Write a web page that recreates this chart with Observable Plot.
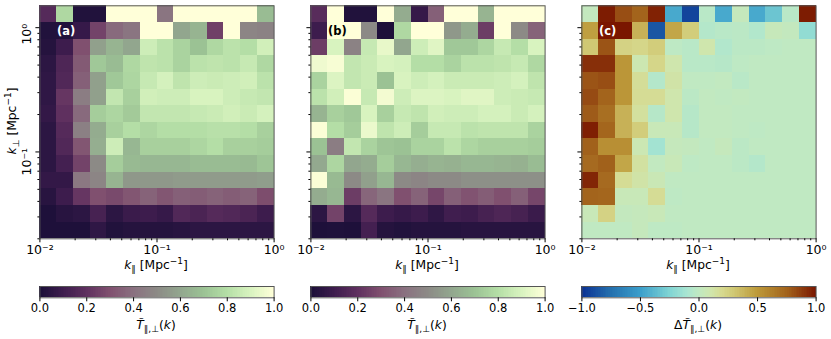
<!DOCTYPE html>
<html><head><meta charset="utf-8">
<script src="https://cdn.jsdelivr.net/npm/d3@7"></script>
<script src="https://cdn.jsdelivr.net/npm/@observablehq/plot@0.6"></script>
<style>
html,body{margin:0;padding:0;background:#fff}
#root{position:relative;width:831px;height:339px;overflow:hidden;font-family:"DejaVu Sans",sans-serif;color:#000}
#root svg{position:absolute;overflow:visible}
.lab{position:absolute;font-size:12.3px;line-height:14px;white-space:nowrap;transform:translate(-50%,-50%)}
.lab.rot{transform:translate(-50%,-50%) rotate(-90deg)}
.lab sub{font-size:9px;line-height:0;vertical-align:-3px}
.lab sup{font-size:9px;line-height:0;vertical-align:5px}
</style></head><body><div id="root"></div>
<script>
const panelA = [
[.17,.78,.02,.02,1,1,1,.42,1,1,1,1,1,.68],
[.02,.02,.08,.26,.38,.42,1,1,.6,.65,.25,1,.48,.47],
[.03,.1,.3,.58,.65,.6,.87,.82,.76,.7,.78,.82,.8,.88],
[.05,.15,.33,.72,.68,.78,.83,.82,.76,.82,.83,.82,.85,.78],
[.06,.16,.35,.58,.72,.77,.85,.89,.83,.87,.86,.87,.88,.82],
[.06,.22,.45,.58,.84,.75,.88,.87,.87,.9,.9,.87,.85,.84],
[.07,.2,.38,.74,.77,.73,.84,.84,.84,.85,.86,.88,.86,.89],
[.05,.17,.46,.62,.75,.8,.77,.8,.8,.8,.81,.81,.8,.75],
[.05,.16,.32,.63,.87,.66,.75,.75,.75,.77,.8,.75,.75,.74],
[.05,.12,.26,.5,.74,.67,.66,.66,.66,.68,.68,.68,.67,.71],
[.07,.07,.43,.48,.65,.55,.55,.55,.56,.56,.56,.56,.56,.57],
[.04,.1,.22,.3,.28,.32,.36,.32,.35,.34,.36,.34,.36,.29],
[.01,.04,.05,.13,.05,.09,.1,.08,.16,.14,.17,.16,.14,.1],
[.01,.01,.01,.06,.02,.03,.03,.03,.04,.05,.05,.05,.05,.05]];
const panelB = [
[.18,1,.02,.02,1,.62,.08,.35,1,1,.65,1,1,1],
[.1,1,1,.5,.01,.78,1,1,.55,.62,.24,1,.5,.36],
[.24,.9,.47,.85,.94,.6,.87,.92,.72,.72,.77,.85,.8,.9],
[.96,.98,.84,.86,.9,.89,.8,.8,.76,.82,.82,.83,.85,.78],
[.76,.91,.84,.86,.7,.9,.87,.89,.86,.86,.86,.87,.89,.83],
[.82,.88,.99,.85,.97,.87,.91,.91,.9,.92,.92,.87,.86,.85],
[.65,.75,.72,.9,.75,.85,.83,.88,.87,.87,.89,.89,.86,.89],
[.99,.8,.74,.95,.83,.87,.74,.85,.85,.82,.83,.83,.83,.76],
[.7,.45,.84,.76,.71,.7,.76,.76,.82,.77,.75,.75,.75,.74],
[.61,.77,.6,.62,.74,.66,.63,.65,.64,.66,.66,.65,.64,.68],
[.99,.67,.5,.58,.66,.5,.48,.5,.5,.52,.52,.52,.52,.52],
[.62,.66,.24,.37,.42,.3,.36,.27,.35,.31,.34,.3,.35,.27],
[.05,.26,.05,.17,.1,.08,.1,.06,.11,.1,.13,.15,.13,.09],
[.01,.015,.01,.12,.03,.02,.03,.03,.03,.04,.04,.04,.04,.04]];
const panelC = [
[.02,.98,.82,.75,.96,-.45,-.92,-.03,-.45,.03,-.45,-.32,-.03,.98],
[.48,1,1,.4,-.85,.45,.27,-.05,-.03,-.02,-.06,.04,.02,-.18],
[.3,.8,.24,.22,.27,-.01,-.03,.1,-.06,-.02,-.02,-.01,0,0],
[.92,.92,.52,.08,.22,.1,-.03,-.03,-.04,-.01,0,0,0,0],
[.8,.82,.52,.17,-.05,.12,0,0,.01,-.03,0,0,0,0],
[.83,.75,.52,.18,.18,.1,-.02,.01,0,.01,0,0,0,0],
[.78,.7,.4,.15,-.04,.1,-.04,.01,.01,0,0,0,0,0],
[.97,.74,.4,.27,.05,.05,-.04,.01,.01,0,-.01,0,0,0],
[.76,.55,.55,.07,-.12,.03,.02,0,.03,-.02,0,0,0,0],
[.72,.76,.45,.14,.01,.05,-.01,0,0,-.02,-.05,0,0,0],
[.95,.72,.18,.12,.06,0,0,0,0,0,0,0,0,0],
[.75,.74,.05,.05,.18,-.01,0,0,0,0,0,0,0,0],
[.05,.24,.02,.03,.05,0,0,0,0,0,0,0,0,0],
[0,0,0,.03,-.01,-.01,0,0,0,0,0,0,0,0]];

const seqDomain = [0,.1,.2,.3,.4,.5,.6,.7,.8,.9,1];
const seqColors = ["#1a0f38","#3d1c4d","#5f305f","#80506f","#8a7080","#8c8a86","#92a68e","#9bc294","#b4dea6","#d8f3bf","#ffffd9"];
const divDomain = [-1,-.75,-.5,-.25,-.1,0,.1,.2,.3,.5,.75,1];
const divColors = ["#0a2f93","#2470ae","#3a9ecb","#7fd4d4","#a8e5d2","#c0e9c2","#cfe6ad","#d6d98f","#d0c873","#bd9a3a","#a3641c","#7a1600"];
const seqTicks = [0,.2,.4,.6,.8,1];
const divTicks = [-1,-.5,0,.5,1];
const xDomain = [0.01,1], yDomain = [0.02,1.5];
const xMajor = [0.01,0.1,1], yMajor = [0.1,1];
const xLabels = {0.01:"10⁻²",0.1:"10⁻¹",1:"10⁰"};
const minor = [.02,.03,.04,.05,.06,.07,.08,.09,.2,.3,.4,.5,.6,.7,.8,.9];

const root = document.getElementById("root");
const logEdges = (d,n)=>d3.range(n+1).map(i=>d[0]*Math.pow(d[1]/d[0],i/n));
const xE = logEdges(xDomain,14), yE = logEdges(yDomain,14);
const font = {fontFamily:'"DejaVu Sans",sans-serif',fontSize:"11px",background:"transparent",color:"#000",overflow:"visible"};

function place(el,l,t){el.style.left=l+"px";el.style.top=t+"px";root.appendChild(el);}
function label(html,x,y,rot){const d=document.createElement("div");d.className="lab"+(rot?" rot":"");d.innerHTML=html;d.style.left=x+"px";d.style.top=y+"px";root.appendChild(d);}

function heat(left,values,colorCfg,tag,tagColor,tagDx,showY){
  const cells = values.flatMap((row,r)=>row.map((v,c)=>({v,x1:xE[c],x2:xE[c+1],y1:yE[13-r],y2:yE[14-r]})));
  const marks = [
    Plot.rect(cells,{x1:"x1",x2:"x2",y1:"y1",y2:"y2",fill:"v",shapeRendering:"crispEdges"}),
    Plot.frame({stroke:"#555",strokeWidth:1}),
    Plot.axisX({ticks:xMajor,tickSize:4,tickPadding:2.5,tickFormat:d=>xLabels[d],label:null,fontSize:12.5}),
    Plot.axisX({ticks:minor,tickSize:2,tickFormat:null,label:null,text:null}),
    Plot.axisY({ticks:yMajor,tickSize:4,tickFormat:null,label:null,text:null}),
    Plot.axisY({ticks:minor,tickSize:2,tickFormat:null,label:null,text:null}),
    Plot.text([tag],{frameAnchor:"top-left",dx:tagDx,dy:21,fill:tagColor,fontWeight:"bold",fontSize:11.5,textAnchor:"start"})
  ];
  if(showY) marks.push(Plot.text(yMajor,{y:d=>d,text:d=>d===1?"10⁰":"10⁻¹",frameAnchor:"left",dx:-13,dy:-4,rotate:-90,textAnchor:"end",fontSize:12.5,fill:"#000"}));
  const p = Plot.plot({width:281,height:260,marginLeft:39.4,marginRight:7.4,marginTop:5.3,marginBottom:21.7,
    style:font,
    x:{type:"log",domain:xDomain,axis:null},
    y:{type:"log",domain:yDomain,axis:null},
    color:colorCfg,
    marks});
  place(p,left,0);
}
function bar(left,domain,colors,ticks){
  const [a,b]=[domain[0],domain[domain.length-1]];
  const stops=d3.range(140).map(i=>({x1:a+(b-a)*i/140,x2:a+(b-a)*(i+1.5)/140,v:a+(b-a)*(i+.5)/140}));
  const p=Plot.plot({width:281,height:34,marginLeft:39.4,marginRight:7.4,marginTop:0,marginBottom:22.7,
    style:font,
    x:{domain:[a,b],axis:null},
    y:{axis:null},
    color:{type:"linear",domain,range:colors},
    marks:[
      Plot.rect(stops,{x1:"x1",x2:"x2",fill:"v",shapeRendering:"crispEdges"}),
      Plot.frame({stroke:"#555",strokeWidth:1}),
      Plot.axisX({ticks,tickSize:4,tickPadding:2.5,label:null,fontSize:11.5,tickFormat:d=>d3.format(".1f")(d).replace("-","−")})
    ]});
  place(p,left,286);
}
const seqCfg={type:"linear",domain:seqDomain,range:seqColors,clamp:true};
const divCfg={type:"linear",domain:divDomain,range:divColors,clamp:true};
heat(0,panelA,seqCfg,"(a)","#fff",17,true);
heat(271,panelB,seqCfg,"(b)","#000",17,false);
heat(542,panelC,divCfg,"(c)","#fff",17,false);
bar(0,seqDomain,seqColors,seqTicks);
bar(271,seqDomain,seqColors,seqTicks);
bar(542,divDomain,divColors,divTicks);
const kx='<i>k</i><sub>∥</sub> [Mpc<sup>−1</sup>]';
label(kx,156,265);label(kx,427,265);label(kx,698,265);
label('<i>k</i><sub>⊥</sub> [Mpc<sup>−1</sup>]',12,121,true);
const tt='<i>T̃</i><sub>∥,⊥</sub>(<i>k</i>)';
label(tt,156,325);label(tt,427,325);label('Δ'+tt,698,325);
</script></body></html>
